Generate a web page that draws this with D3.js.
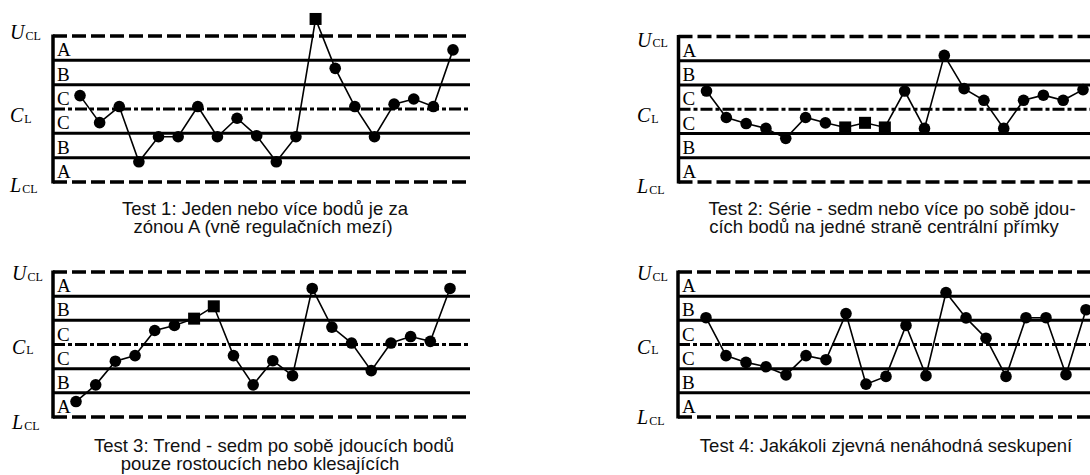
<!DOCTYPE html>
<html>
<head>
<meta charset="utf-8">
<script src="https://cdn.jsdelivr.net/npm/d3@7"></script>
<style>
body { margin: 0; background: #fff; }
</style>
</head>
<body>
<div id="chart"></div>
<script>
// Sample numbers (x categories), shared by all four charts
const samples = [1, 2, 3, 4, 5, 6, 7, 8, 9, 10, 11, 12, 13, 14, 15, 16, 17, 18, 19, 20];

// Zone boundaries in sigma units, and zone letters from top to bottom
const zoneBounds = [3, 2, 1, 0, -1, -2, -3];
const zoneLetters = ["A", "B", "C", "C", "B", "A"];

// Control limit labels: main letter + subscript
const limitValues = [3, 0, -3];
const limitMain = ["U", "C", "L"];
const limitSub = ["CL", "L", "CL"];

// Values in sigma units
const test1 = [0.55, -0.56, 0.1, -2.17, -1.14, -1.14, 0.1, -1.14, -0.38, -1.1,
    -2.17, -1.14, 3.7, 1.67, 0.1, -1.14, 0.2, 0.41, 0.1, 2.43];
const test2 = [0.75, -0.34, -0.59, -0.79, -1.2, -0.34, -0.56, -0.75, -0.56, -0.75,
    0.75, -0.79, 2.22, 0.85, 0.37, -0.79, 0.37, 0.58, 0.37, 0.81];
const test3 = [-2.36, -1.67, -0.69, -0.46, 0.58, 0.79, 1.07, 1.58, -0.46, -1.67,
    -0.67, -1.29, 2.32, 0.72, 0.06, -1.08, 0.06, 0.33, 0.13, 2.32];
const test4 = [1.11, -0.46, -0.74, -0.92, -1.26, -0.46, -0.63, 1.28, -1.64, -1.32,
    0.79, -1.29, 2.15, 1.1, 0.26, -1.32, 1.11, 1.11, -1.25, 1.44];

// Samples that violate the rule (drawn as squares)
const test1Flagged = [13];
const test2Flagged = [8, 9, 10];
const test3Flagged = [7, 8];
const test4Flagged = [];

// Captions
const caption1 = ["Test 1: Jeden nebo více bodů je za", "zónou A (vně regulačních mezí)"];
const caption2 = ["Test 2: Série - sedm nebo více po sobě jdou-", "cích bodů na jedné straně centrální přímky"];
const caption3 = ["Test 3: Trend - sedm po sobě jdoucích bodů", "pouze rostoucích nebo klesajících"];
const caption4 = ["Test 4: Jakákoli zjevná nenáhodná seskupení"];

const width = 1090;
const height = 475;

const svg = d3
    .select("#chart")
    .append("svg")
    .attr("width", width)
    .attr("height", height);

// Layout of each chart (positions only)
const panels = [
    { values: test1, flagged: test1Flagged, caption: caption1,
      left: 53, right: 470, top: 36, bottom: 182, x0: 80, x1: 453,
      labelX: 10, labelDy: [3, 13, 10],
      capX: [265, 263], capY: 215 },
    { values: test2, flagged: test2Flagged, caption: caption2,
      left: 678.5, right: 1100, top: 36.5, bottom: 182, x0: 706.5, x1: 1083,
      labelX: 637, labelDy: [10, 13, 11],
      capX: [892, 884], capY: 215 },
    { values: test3, flagged: test3Flagged, caption: caption3,
      left: 53, right: 470, top: 272, bottom: 417, x0: 76, x1: 450,
      labelX: 12, labelDy: [8, 9, 12],
      capX: [274, 260], capY: 451.5 },
    { values: test4, flagged: test4Flagged, caption: caption4,
      left: 678, right: 1100, top: 272, bottom: 417, x0: 706, x1: 1086,
      labelX: 637, labelDy: [8, 9, 7],
      capX: [886], capY: 451.5 },
];

const drawPanel = (p) => {
    const g = svg.append("g");

    let x = d3.scalePoint().domain(samples).range([p.x0, p.x1]);
    let y = d3.scaleLinear().domain([-3, 3]).range([p.bottom, p.top]);

    // zone lines
    g.selectAll("line.zone")
        .data(zoneBounds)
        .enter()
        .append("line")
        .attr("class", "zone")
        .attr("x1", p.left)
        .attr("x2", p.right)
        .attr("y1", (d) => y(d))
        .attr("y2", (d) => y(d))
        .attr("stroke", "#000")
        .attr("stroke-width", (d) => (Math.abs(d) === 3 ? 3.5 : 3))
        .attr("stroke-dasharray", (d) => {
            if (Math.abs(d) === 3) return "14,5";
            if (d === 0) return "12,3,4,3";
            return null;
        });

    // left axis
    g.append("line")
        .attr("x1", p.left)
        .attr("x2", p.left)
        .attr("y1", y(3) - 1.5)
        .attr("y2", y(-3) + 1.5)
        .attr("stroke", "#000")
        .attr("stroke-width", 3.5);

    // zone letters
    g.selectAll("text.zone")
        .data(zoneLetters)
        .enter()
        .append("text")
        .attr("class", "zone")
        .attr("x", p.left + 4)
        .attr("y", (d, i) => y(zoneBounds[i + 1]) - 4)
        .attr("font-family", "Liberation Serif, serif")
        .attr("font-size", 19)
        .attr("fill", "#000")
        .text((d) => d);

    // control limit labels
    const lab = g.selectAll("text.limit")
        .data(limitValues)
        .enter()
        .append("text")
        .attr("class", "limit")
        .attr("x", p.labelX)
        .attr("y", (d, i) => y(d) + p.labelDy[i])
        .attr("font-family", "Liberation Serif, serif")
        .attr("fill", "#000");
    lab.append("tspan")
        .attr("font-size", 20)
        .attr("font-style", "italic")
        .text((d, i) => limitMain[i]);
    lab.append("tspan")
        .attr("font-size", 12)
        .attr("dx", 1)
        .attr("dy", 0.5)
        .text((d, i) => limitSub[i]);

    // data line
    let line = d3
        .line()
        .x((d, i) => x(samples[i]))
        .y((d) => y(d));

    g.append("path")
        .datum(p.values)
        .attr("fill", "none")
        .attr("stroke", "#000")
        .attr("stroke-width", 1.6)
        .attr("d", line);

    const pts = samples.map((s, i) => ({ s: s, v: p.values[i] }));

    g.selectAll("circle")
        .data(pts.filter((d) => !p.flagged.includes(d.s)))
        .enter()
        .append("circle")
        .attr("cx", (d) => x(d.s))
        .attr("cy", (d) => y(d.v))
        .attr("r", 5.8)
        .attr("fill", "#000");

    g.selectAll("rect")
        .data(pts.filter((d) => p.flagged.includes(d.s)))
        .enter()
        .append("rect")
        .attr("x", (d) => x(d.s) - 6)
        .attr("y", (d) => y(d.v) - 6)
        .attr("width", 12)
        .attr("height", 12)
        .attr("fill", "#000");

    // caption, wrapped over two lines in one text block
    g.append("text")
        .attr("class", "caption")
        .attr("y", p.capY)
        .attr("text-anchor", "middle")
        .attr("font-family", "Liberation Sans, Arial, sans-serif")
        .attr("font-size", 18.5)
        .attr("fill", "#111")
        .selectAll("tspan")
        .data(p.caption)
        .enter()
        .append("tspan")
        .attr("x", (d, i) => p.capX[i])
        .attr("dy", (d, i) => (i === 0 ? 0 : 18))
        .text((d) => d);
};

panels.forEach(drawPanel);
</script>
</body>
</html>
